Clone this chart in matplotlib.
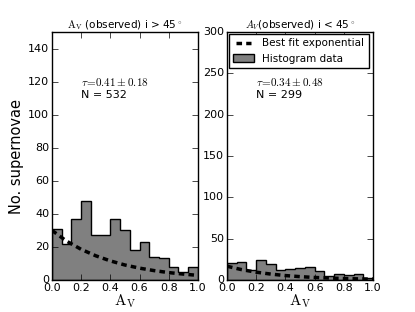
import numpy as np
import matplotlib
matplotlib.use("Agg")
import matplotlib.pyplot as plt

plt.style.use('classic')
plt.rcParams['mathtext.fontset'] = 'cm'
plt.rcParams['font.family'] = ['DejaVu Sans']

# histogram counts (15 bins between 0 and 1)
counts_high = [31, 22, 37, 48, 27, 27, 37, 30, 18, 23, 14, 13, 8, 5, 8]
counts_low = [21, 22, 12, 24, 19, 12, 13, 14, 15, 11, 5, 7, 6, 7, 2.5]

# best-fit exponential curves, read at these A_V values
fit_x = [0.0, 0.1, 0.2, 0.3, 0.4, 0.5, 0.6, 0.7, 0.8, 0.9, 1.0]
fit_high = [30, 23.5, 18.5, 14.6, 11.5, 9.0, 7.1, 5.6, 4.4, 3.5, 2.7]
fit_low = [16.5, 12.4, 9.3, 7.0, 5.2, 3.9, 2.9, 2.2, 1.6, 1.2, 0.9]

titles = [r'$\mathrm{A_V}$ (observed) i > 45$^\circ$', r'$A_V$(observed) i < 45$^\circ$']
tau_texts = [r'$\tau\!=\!0.41\pm0.18$', r'$\tau\!=\!0.34\pm0.48$']
n_texts = ['N = 532', 'N = 299']
ylims = [150, 300]
yticks = [np.arange(0, 141, 20), np.arange(0, 301, 50)]

edges = np.linspace(0, 1, len(counts_high) + 1)
centers = 0.5 * (edges[:-1] + edges[1:])

fig = plt.figure(figsize=(4.15, 3.12), dpi=100, facecolor='white')
ax1 = fig.add_axes([0.125, 0.103, 0.352, 0.794])
ax2 = fig.add_axes([0.547, 0.103, 0.352, 0.794])

for i, (ax, counts, fit) in enumerate([(ax1, counts_high, fit_high), (ax2, counts_low, fit_low)]):
    ax.plot(fit_x, fit, 'k--', linewidth=2.5, dashes=(4, 3), label='Best fit exponential', zorder=3)
    ax.hist(centers, bins=edges, weights=counts, histtype='stepfilled',
            facecolor='0.5', edgecolor='black', linewidth=1.0, label='Histogram data', zorder=2)
    ax.set_xlim(0, 1)
    ax.set_ylim(0, ylims[i])
    ax.set_yticks(yticks[i])
    ax.set_xticks(np.arange(0, 1.01, 0.2))
    ax.tick_params(labelsize=8, length=4, pad=2)
    ax.set_title(titles[i], fontsize=7.5, pad=3)
    ax.set_xlabel(r'$\mathrm{A_V}$', fontsize=11, labelpad=0)
    ax.text(0.2, 0.80, tau_texts[i], transform=ax.transAxes, fontsize=8, va='center')
    ax.text(0.2, 0.745, n_texts[i], transform=ax.transAxes, fontsize=8, va='center')
    ax.set_facecolor('white')

ax1.set_ylabel('No. supernovae', fontsize=10.5, labelpad=3)
handles, labels = ax2.get_legend_handles_labels()
leg = ax2.legend(handles, labels, loc='upper left', fontsize=7.5, numpoints=2, handlelength=2.0,
                 borderaxespad=0.2, frameon=True, fancybox=False)

fig.savefig('out.png', dpi=100, facecolor='white')
